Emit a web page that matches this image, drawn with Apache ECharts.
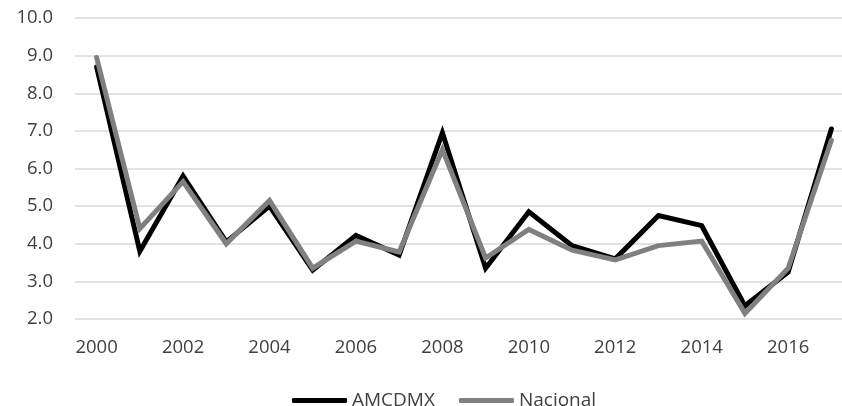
<!DOCTYPE html>
<html>
<head>
<meta charset="utf-8">
<script src="https://cdn.jsdelivr.net/npm/echarts@6/dist/echarts.min.js"></script>
<style>
html,body{margin:0;padding:0;background:#fff;}
#c{width:842px;height:406px;}
</style>
</head>
<body>
<div id="c"></div>
<script>
var years = ['2000','2001','2002','2003','2004','2005','2006','2007','2008','2009','2010','2011','2012','2013','2014','2015','2016','2017'];
var amcdmx = [8.7, 3.8, 5.8, 4.05, 5.0, 3.3, 4.22, 3.7, 6.95, 3.35, 4.85, 3.95, 3.6, 4.75, 4.48, 2.35, 3.25, 7.05];
var nacional = [8.95, 4.4, 5.65, 4.0, 5.15, 3.35, 4.07, 3.78, 6.5, 3.62, 4.38, 3.83, 3.57, 3.95, 4.07, 2.15, 3.35, 6.75];
var yTicks = ['2.0','3.0','4.0','5.0','6.0','7.0','8.0','9.0','10.0'];

var font = '"Open Sans", sans-serif';
var chart = echarts.init(document.getElementById('c'), null, {renderer: 'canvas'});
chart.setOption({
  animation: false,
  backgroundColor: '#ffffff',
  grid: {left: 75, right: -11, top: 18, bottom: 87, outerBoundsMode: 'none', containLabel: false},
  legend: {
    left: 287, top: 386,
    itemWidth: 55, itemHeight: 5, itemGap: 24,
    icon: 'roundRect',
    textStyle: {fontFamily: font, fontSize: 19, color: '#404040'},
    data: ['AMCDMX', 'Nacional']
  },
  xAxis: {
    type: 'category',
    data: years,
    boundaryGap: true,
    axisLine: {show: false},
    axisTick: {show: false},
    axisLabel: {interval: 1, margin: 19, fontFamily: font, fontSize: 18.5, color: '#404040'},
    splitLine: {show: false}
  },
  yAxis: {
    type: 'value',
    min: 2, max: 10, interval: 1,
    axisLine: {show: false},
    axisTick: {show: false},
    axisLabel: {margin: 22, fontFamily: font, fontSize: 18.5, color: '#404040',
      formatter: function (v) { return yTicks[Math.round(v - 2)]; }},
    splitLine: {lineStyle: {color: '#d9d9d9', width: 1.5}}
  },
  series: [
    {name: 'AMCDMX', type: 'line', data: amcdmx, showSymbol: false, symbol: 'none',
      itemStyle: {color: '#000000'},
      lineStyle: {color: '#000000', width: 5, cap: 'round', join: 'miter'}},
    {name: 'Nacional', type: 'line', data: nacional, showSymbol: false, symbol: 'none',
      itemStyle: {color: '#808080'},
      lineStyle: {color: '#808080', width: 5, cap: 'round', join: 'miter'}}
  ]
});
</script>
</body>
</html>
